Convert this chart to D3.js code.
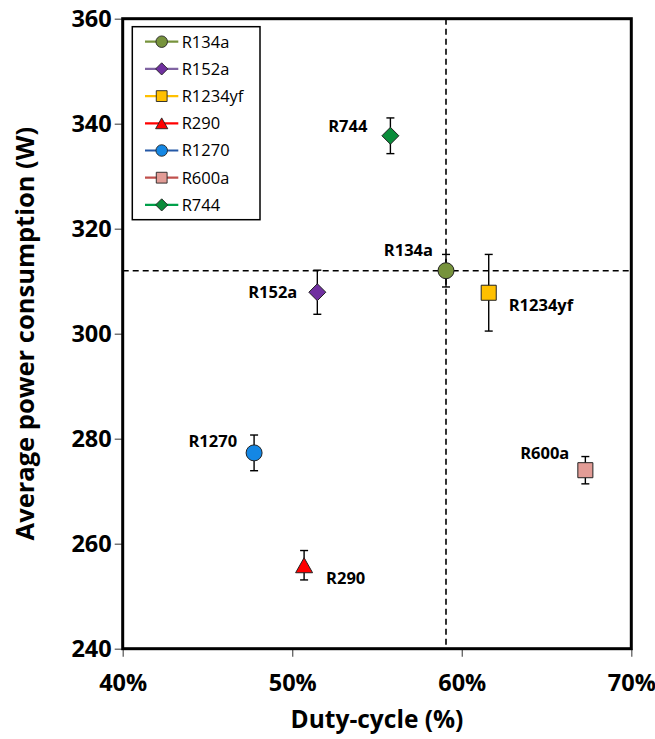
<!DOCTYPE html>
<html>
<head>
<meta charset="utf-8">
<script src="https://cdn.jsdelivr.net/npm/d3@7"></script>
<style>
  body { margin: 0; background: #fff; }
  svg { display: block; }
  text { font-family: "Open Sans", "DejaVu Sans", sans-serif; }
</style>
</head>
<body>
<svg id="chart" width="655" height="739"></svg>
<script>
// Refrigerant test results: duty-cycle vs. average power consumption (mean ± error)
const refrigerants = ["R134a", "R152a", "R1234yf", "R290", "R1270", "R600a", "R744"];
const dutyCycle    = [59.07, 51.48, 61.59, 50.70, 47.75, 67.29, 55.79];   // %
const power        = [312.0, 307.9, 307.8, 255.9, 277.3, 274.0, 337.7];   // W
const powerError   = [3.1, 4.2, 7.3, 2.8, 3.4, 2.6, 3.4];                 // W
const xTickValues  = [40, 50, 60, 70];
const yTickValues  = [240, 260, 280, 300, 320, 340, 360];
const baselineRefrigerant = "R134a";

// Styling per refrigerant
const markerShape = { R134a: "circle", R152a: "diamond", R1234yf: "square", R290: "triangle",
                      R1270: "circle", R600a: "square", R744: "diamond" };
const markerFill  = { R134a: "#77933C", R152a: "#7030A0", R1234yf: "#FFC000", R290: "#FF0000",
                      R1270: "#1487E4", R600a: "#E29C96", R744: "#0A8C3A" };
const legendLine  = { R134a: "#77933C", R152a: "#8064A2", R1234yf: "#FFC000", R290: "#FF0000",
                      R1270: "#2458A6", R600a: "#C0504D", R744: "#00A04A" };
// Data label placement: side of the marker and offsets in px
const labelPlace = {
  R134a:   { anchor: "end",   dx: -13, dy: -21 },
  R152a:   { anchor: "end",   dx: -20, dy: 0 },
  R1234yf: { anchor: "start", dx: 20,  dy: 12 },
  R290:    { anchor: "start", dx: 22,  dy: 13 },
  R1270:   { anchor: "end",   dx: -17, dy: -12 },
  R600a:   { anchor: "end",   dx: -16, dy: -17 },
  R744:    { anchor: "end",   dx: -23, dy: -10 }
};

const points = refrigerants.map((name, i) => ({
  name, x: dutyCycle[i], y: power[i], err: powerError[i]
}));

const svg = d3.select("#chart");
const plot = { left: 122.7, right: 631.3, top: 18.7, bottom: 648.7 };

const x = d3.scaleLinear().domain([40, 70]).range([plot.left, plot.right]);
const y = d3.scaleLinear().domain([240, 360]).range([plot.bottom, plot.top]);

function markerPath(shape, s) {
  const p = d3.path();
  if (shape === "circle") {
    p.arc(0, 0, s * 0.5, 0, 2 * Math.PI);
  } else if (shape === "diamond") {
    const h = s * 0.53;
    p.moveTo(0, -h); p.lineTo(h, 0); p.lineTo(0, h); p.lineTo(-h, 0); p.closePath();
  } else if (shape === "square") {
    const h = s * 0.47;
    p.rect(-h, -h, 2 * h, 2 * h);
  } else if (shape === "triangle") {
    const w = s * 0.53, h = s * 0.47;
    p.moveTo(0, -h); p.lineTo(w, h); p.lineTo(-w, h); p.closePath();
  }
  return p.toString();
}

// Axes: ticks outside, labels bold
const gx = svg.append("g")
  .attr("transform", `translate(0,${plot.bottom})`)
  .call(d3.axisBottom(x).tickValues(xTickValues).tickSize(8).tickPadding(17.5)
        .tickFormat(d => d + "%"));
const gy = svg.append("g")
  .attr("transform", `translate(${plot.left},0)`)
  .call(d3.axisLeft(y).tickValues(yTickValues).tickSize(8).tickPadding(3));
[gx, gy].forEach(g => {
  g.select(".domain").remove();
  g.selectAll(".tick line").attr("stroke", "#555").attr("stroke-width", 1.2);
  g.selectAll(".tick text").attr("fill", "#000").style("font-size", "23.5px")
    .style("font-weight", "bold").style("font-family", "'Open Sans', sans-serif");
});

// Reference lines through the baseline refrigerant
const base = points.find(d => d.name === baselineRefrigerant);
svg.append("line")
  .attr("x1", x(base.x)).attr("x2", x(base.x))
  .attr("y1", plot.top).attr("y2", plot.bottom)
  .attr("stroke", "#000").attr("stroke-width", 1.6).attr("stroke-dasharray", "6,4");
svg.append("line")
  .attr("x1", plot.left).attr("x2", plot.right)
  .attr("y1", y(base.y)).attr("y2", y(base.y))
  .attr("stroke", "#000").attr("stroke-width", 1.6).attr("stroke-dasharray", "6,4");

// Plot frame
svg.append("rect")
  .attr("x", plot.left).attr("y", plot.top)
  .attr("width", plot.right - plot.left).attr("height", plot.bottom - plot.top)
  .attr("fill", "none").attr("stroke", "#000").attr("stroke-width", 3);

// Error bars
const eb = svg.append("g").attr("stroke", "#000").attr("stroke-width", 1.4);
points.forEach(d => {
  const cx = x(d.x), y1 = y(d.y + d.err), y2 = y(d.y - d.err);
  eb.append("line").attr("x1", cx).attr("x2", cx).attr("y1", y1).attr("y2", y2);
  eb.append("line").attr("x1", cx - 4).attr("x2", cx + 4).attr("y1", y1).attr("y2", y1);
  eb.append("line").attr("x1", cx - 4).attr("x2", cx + 4).attr("y1", y2).attr("y2", y2);
});

// Markers
svg.append("g").selectAll("path").data(points).join("path")
  .attr("transform", d => `translate(${x(d.x)},${y(d.y)})`)
  .attr("d", d => markerPath(markerShape[d.name], 16))
  .attr("fill", d => markerFill[d.name])
  .attr("stroke", "#222").attr("stroke-width", 1);

// Data labels
svg.append("g").selectAll("text").data(points).join("text")
  .attr("x", d => x(d.x) + labelPlace[d.name].dx)
  .attr("y", d => y(d.y) + labelPlace[d.name].dy)
  .attr("dy", "0.36em")
  .attr("text-anchor", d => labelPlace[d.name].anchor)
  .style("font-size", "16.5px").style("font-weight", "bold")
  .text(d => d.name);

// Legend
const legend = svg.append("g");
legend.append("rect")
  .attr("x", 132.3).attr("y", 26.7).attr("width", 127.7).attr("height", 193)
  .attr("fill", "#fff").attr("stroke", "#000").attr("stroke-width", 1.5);
refrigerants.forEach((name, i) => {
  const ly = 41.7 + i * 27.2;
  const row = legend.append("g").attr("transform", `translate(0,${ly})`);
  row.append("line").attr("x1", 145).attr("x2", 178.3).attr("y1", 0).attr("y2", 0)
    .attr("stroke", legendLine[name]).attr("stroke-width", 2.2);
  row.append("path").attr("transform", "translate(161.7,0)")
    .attr("d", markerPath(markerShape[name], 11.5))
    .attr("fill", markerFill[name]).attr("stroke", "#222").attr("stroke-width", 0.9);
  row.append("text").attr("x", 181.7).attr("y", 0).attr("dy", "0.36em")
    .style("font-size", "16.5px").text(name);
});

// Axis titles
svg.append("text")
  .attr("x", (plot.left + plot.right) / 2).attr("y", 728)
  .attr("text-anchor", "middle")
  .style("font-size", "24.5px").style("font-weight", "bold")
  .text("Duty-cycle (%)");
svg.append("text")
  .attr("transform", `translate(25,${(plot.top + plot.bottom) / 2}) rotate(-90)`)
  .attr("text-anchor", "middle").attr("dy", "0.36em")
  .style("font-size", "25.5px").style("font-weight", "bold")
  .text("Average power consumption (W)");
</script>
</body>
</html>
